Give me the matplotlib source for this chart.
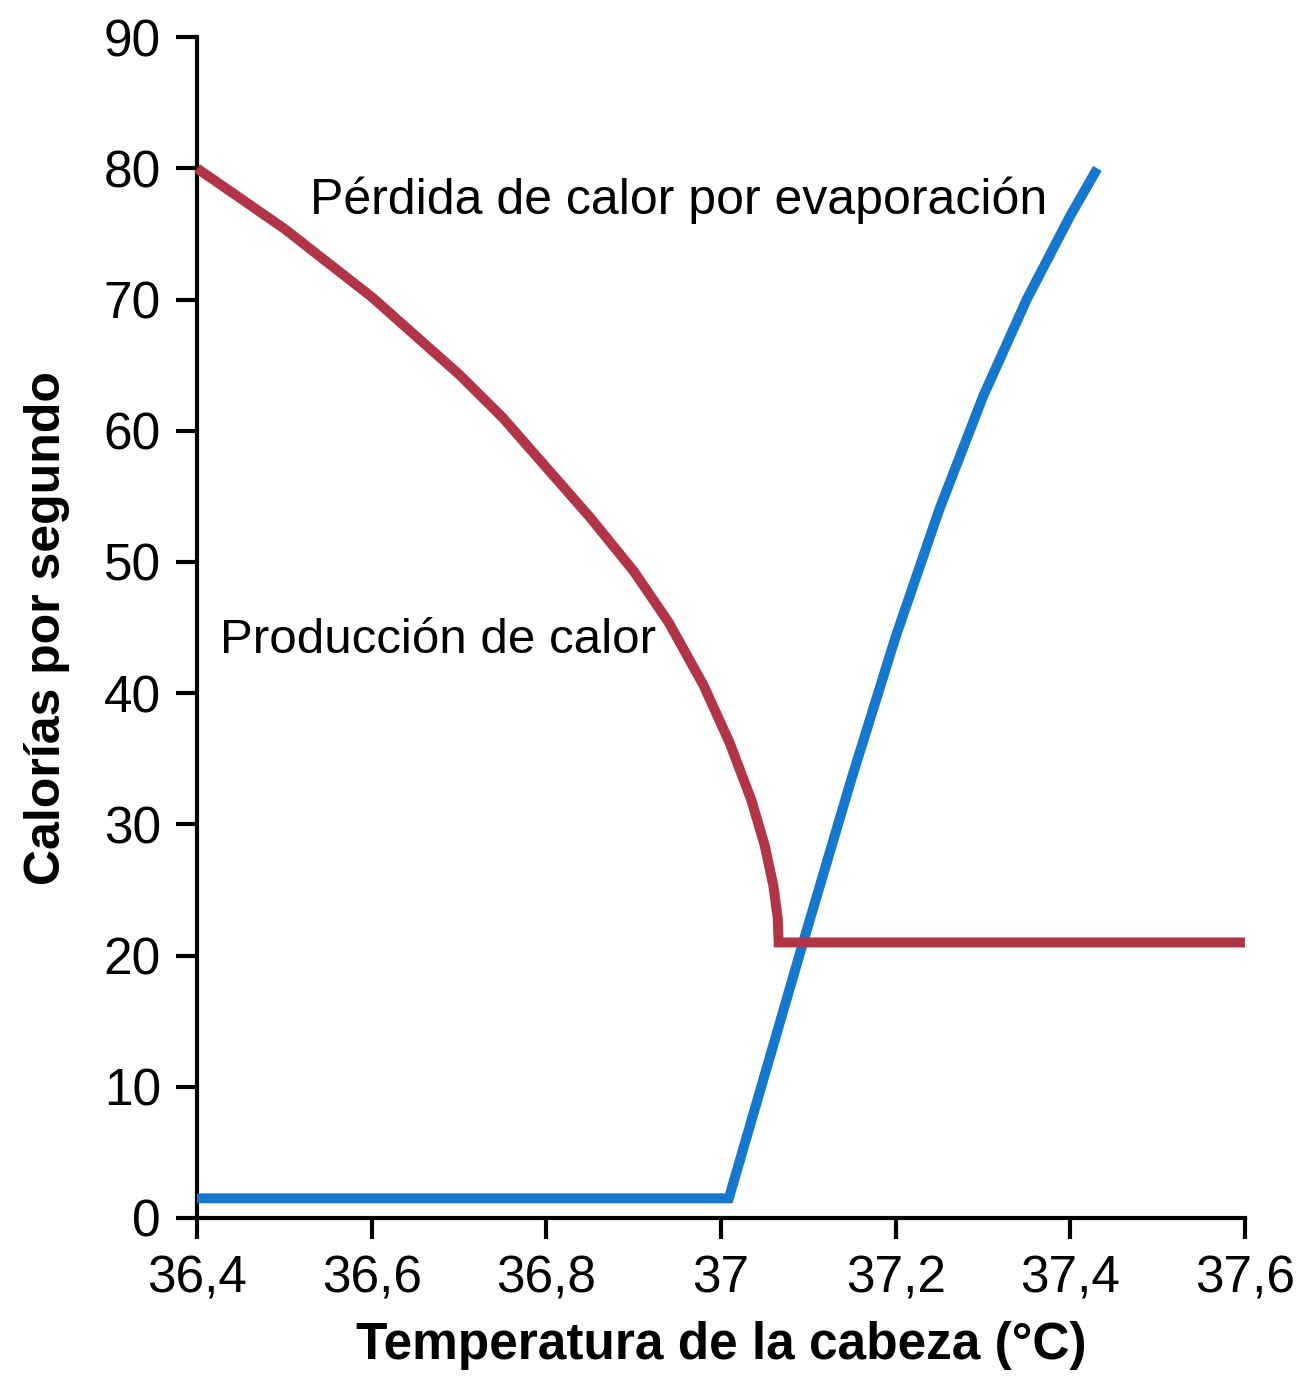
import matplotlib.pyplot as plt

# ----
# data
# ----
prod_x = [36.40, 36.50, 36.60, 36.70, 36.75, 36.80, 36.85, 36.90, 36.94,
          36.98, 37.01, 37.035, 37.05, 37.06, 37.065, 37.066, 37.60]
prod_y = [80.0, 75.4, 70.2, 64.3, 61.0, 57.2, 53.4, 49.3, 45.4,
          40.6, 36.2, 31.8, 28.4, 25.3, 22.8, 21.0, 21.0]

evap_x = [36.40, 37.009, 37.094, 37.15, 37.20, 37.25, 37.30, 37.35, 37.40, 37.431]
evap_y = [1.5, 1.5, 21.0, 33.6, 44.3, 54.0, 62.6, 70.0, 76.4, 80.0]

xticks = [36.4, 36.6, 36.8, 37.0, 37.2, 37.4, 37.6]
xtick_labels = ['36,4', '36,6', '36,8', '37', '37,2', '37,4', '37,6']
yticks = [0, 10, 20, 30, 40, 50, 60, 70, 80, 90]

plt.rcParams['font.family'] = ['Liberation Sans', 'DejaVu Sans']

fig = plt.figure(figsize=(13.05, 13.77), dpi=100)
ax = fig.add_axes([0.151, 0.1155, 0.803, 0.8575])

ax.plot(evap_x, evap_y, color='#1677CE', lw=7.2, solid_capstyle='butt',
        solid_joinstyle='miter', clip_on=False, zorder=3)
ax.plot(prod_x, prod_y, color='#B23447', lw=7.2, solid_capstyle='butt',
        solid_joinstyle='miter', clip_on=False, zorder=4)

ax.set_xlim(36.4, 37.6)
ax.set_ylim(0, 90)
ax.set_xticks(xticks)
ax.set_xticklabels(xtick_labels)
ax.set_yticks(yticks)

for s in ['top', 'right']:
    ax.spines[s].set_visible(False)
for s in ['left', 'bottom']:
    ax.spines[s].set_linewidth(3)
ax.tick_params(axis='both', direction='out', length=15, width=3,
               labelsize=37, pad=11, colors='black')

ax.text(36.426, 44, 'Producción de calor', fontsize=35.5, va='center', ha='left')
ax.text(36.529, 77.6, 'Pérdida de calor por evaporación', fontsize=36,
        va='center', ha='left')

ax.set_xlabel('Temperatura de la cabeza (°C)', fontsize=37, fontweight='bold',
              labelpad=13)
ax.set_ylabel('Calorías por segundo', fontsize=36, fontweight='bold',
              labelpad=24)

fig.savefig('out.png', dpi=100)
